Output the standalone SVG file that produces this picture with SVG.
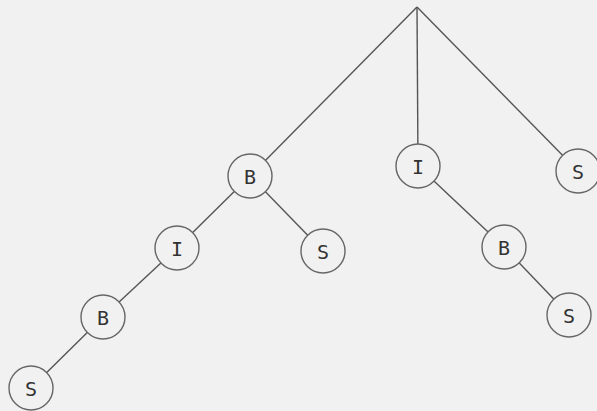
<svg xmlns="http://www.w3.org/2000/svg" width="597" height="411" viewBox="0 0 597 411">
<style>
.edge{stroke:#555;stroke-width:1.4;fill:none}
.node circle{fill:#f1f1f1;stroke:#666;stroke-width:1.4}
.node text{font-family:"DejaVu Sans Mono",monospace;font-size:20px;fill:#333;text-anchor:middle;dominant-baseline:central}
</style>
<rect width="597" height="411" fill="#f1f1f1"/>
<g id="connectors">
<line class="edge" x1="417" y1="7" x2="250" y2="176"/>
<line class="edge" x1="417" y1="7" x2="418" y2="166"/>
<line class="edge" x1="417" y1="7" x2="578" y2="171"/>
<line class="edge" x1="250" y1="176" x2="177" y2="248"/>
<line class="edge" x1="250" y1="176" x2="323" y2="251"/>
<line class="edge" x1="177" y1="248" x2="103" y2="317"/>
<line class="edge" x1="103" y1="317" x2="31" y2="388"/>
<line class="edge" x1="418" y1="166" x2="504" y2="247"/>
<line class="edge" x1="504" y1="247" x2="569" y2="315"/>
</g>
<g id="n_B1" class="node"><circle cx="250" cy="176" r="22"/><text x="250" y="177">B</text></g>
<g id="n_I1" class="node"><circle cx="418" cy="166" r="22"/><text x="418" y="167">I</text></g>
<g id="n_S1" class="node"><circle cx="578" cy="171" r="22"/><text x="578" y="172">S</text></g>
<g id="n_I2" class="node"><circle cx="177" cy="248" r="22"/><text x="177" y="249">I</text></g>
<g id="n_S2" class="node"><circle cx="323" cy="251" r="22"/><text x="323" y="252">S</text></g>
<g id="n_B2" class="node"><circle cx="103" cy="317" r="22"/><text x="103" y="318">B</text></g>
<g id="n_S3" class="node"><circle cx="31" cy="388" r="22"/><text x="31" y="389">S</text></g>
<g id="n_B3" class="node"><circle cx="504" cy="247" r="22"/><text x="504" y="248">B</text></g>
<g id="n_S4" class="node"><circle cx="569" cy="315" r="22"/><text x="569" y="316">S</text></g>
</svg>
